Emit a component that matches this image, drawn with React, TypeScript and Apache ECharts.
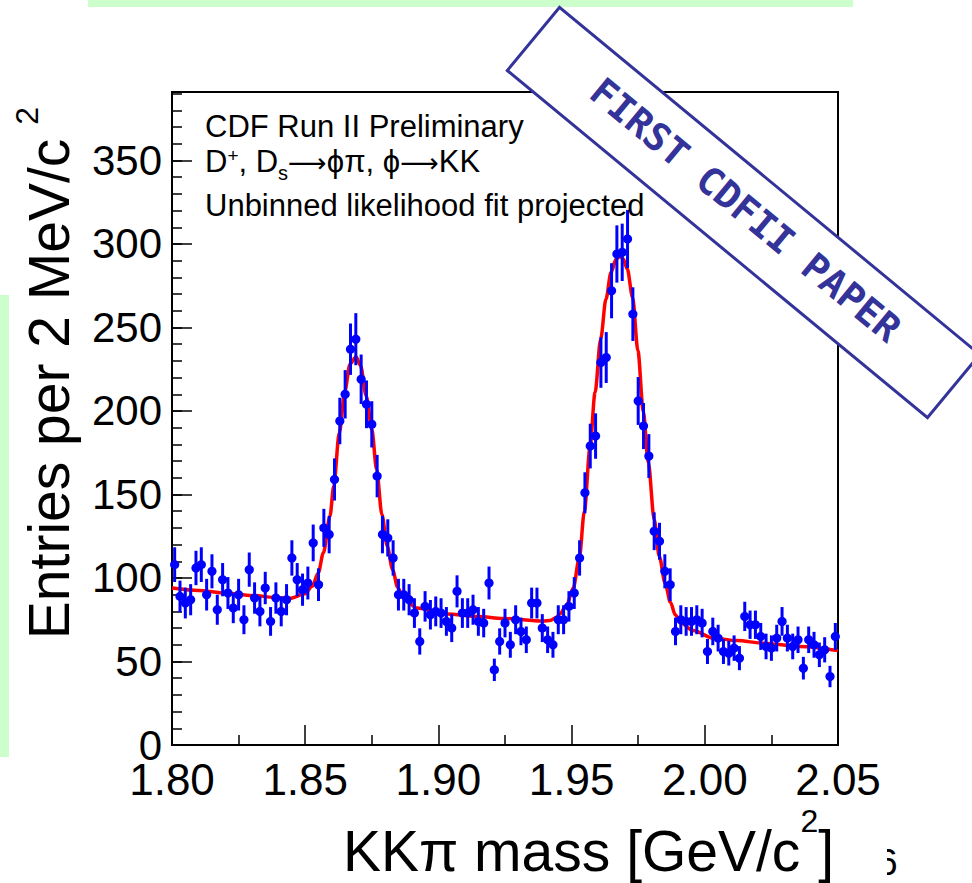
import React, { useEffect, useRef } from 'react';
import * as echarts from 'echarts';

// Histogram: 2 MeV bins from 1.80 to 2.05 GeV/c^2
const binStart = 1.8;
const binWidth = 0.002;
const counts = [
  108, 89, 85, 87, 106, 108, 90, 104, 81, 99,
  91, 82, 90, 75, 105, 88, 80, 94, 74, 88,
  80, 87, 112, 99, 93, 97, 121, 96, 130, 126,
  159, 194, 210, 237, 243, 219, 204, 192, 161, 126,
  124, 112, 90, 90, 87, 79, 62, 83, 78, 80,
  79, 74, 70, 92, 79, 79, 81, 74, 73, 97,
  45, 62, 73, 60, 75, 68, 63, 85, 85, 70,
  63, 60, 75, 75, 83, 91, 112, 151, 179, 185,
  229, 232, 272, 294, 295, 303, 258, 206, 191, 173,
  128, 122, 104, 96, 68, 75, 74, 74, 75, 73,
  56, 68, 64, 56, 55, 58, 52, 77, 72, 72,
  65, 59, 58, 64, 74, 64, 59, 63, 46, 63,
  60, 54, 57, 41, 65,
];

// Fit curve
const fitMass = [
  1.8, 1.81, 1.82, 1.83, 1.84, 1.8443, 1.8499, 1.8526, 1.8549, 1.8568,
  1.8593, 1.8607, 1.8628, 1.8649, 1.8668, 1.8691, 1.8708, 1.8729, 1.875, 1.8768,
  1.8788, 1.8808, 1.8828, 1.8847, 1.8868, 1.8919, 1.9031, 1.915, 1.9242, 1.9393,
  1.9419, 1.9444, 1.9456, 1.9482, 1.9506, 1.9529, 1.9548, 1.9569, 1.9588, 1.9609,
  1.9629, 1.9648, 1.9667, 1.9682, 1.9694, 1.9709, 1.9729, 1.9749, 1.9769, 1.9788,
  1.981, 1.9829, 1.9851, 1.9871, 1.9889, 1.991, 1.9956, 2.0032, 2.012, 2.022,
  2.0357, 2.05,
];
const fitValue = [
  94, 92.5, 91, 89.5, 88.2, 87.8, 90.5, 95, 103, 115,
  137, 155, 187, 212, 228, 232.5, 227, 209, 189, 165,
  138, 119, 105, 94.5, 88, 82, 78.5, 77, 75.8, 74.2,
  74.6, 76.5, 78.5, 84, 94, 112, 140, 178, 211, 243,
  267, 283, 291, 292.5, 291, 285, 268, 236, 200, 169,
  135, 113, 97, 85.5, 78, 73, 68.5, 64, 62.5, 61,
  59, 56.5,
];

const xTicks = { min: 1.8, max: 2.05, interval: 0.05 };
const yTicks = { min: 0, max: 391, major: 50, minor: 10 };

const FONT = '"Liberation Sans", Arial, Helvetica, sans-serif';
const ARROWFONT = '"DejaVu Sans", sans-serif';

export default function App() {
  const ref = useRef<HTMLDivElement>(null);

  useEffect(() => {
    if (!ref.current) return;
    const chart = echarts.init(ref.current, null, { renderer: 'svg' });

    const points = counts.map((c, i) => [binStart + binWidth * (i + 0.5), c]);
    const fit = fitMass.map((m, i) => [m, fitValue[i]]);

    const xTitleRich = {
      m: { fontSize: 57, fontFamily: FONT, lineHeight: 74, verticalAlign: 'bottom', fill: '#000' },
      sup: { fontSize: 32, fontFamily: FONT, lineHeight: 20, verticalAlign: 'top', fill: '#000' },
    };
    const yTitleRich = {
      m: { fontSize: 57, fontFamily: FONT, lineHeight: 66, verticalAlign: 'bottom', fill: '#000' },
      sup: { fontSize: 32, fontFamily: FONT, lineHeight: 20, verticalAlign: 'top', padding: [0, 0, 0, 14], fill: '#000' },
    };

    const option: any = {
      animation: false,
      backgroundColor: '#ffffff',
      grid: {
        left: 172,
        top: 92,
        width: 666,
        height: 653,
        show: true,
        borderColor: '#000',
        borderWidth: 2,
        backgroundColor: 'transparent',
        containLabel: false,
      },
      xAxis: {
        type: 'value',
        min: xTicks.min,
        max: xTicks.max,
        interval: xTicks.interval,
        axisLine: { show: true, lineStyle: { color: '#000', width: 2 } },
        axisTick: { show: true, inside: true, length: 20, lineStyle: { color: '#000', width: 1.5 } },
        minorTick: { show: true, splitNumber: 2, length: 10, lineStyle: { color: '#000', width: 1.5 } },
        splitLine: { show: false },
        minorSplitLine: { show: false },
        axisLabel: {
          color: '#000',
          fontSize: 44,
          fontFamily: FONT,
          margin: 12,
          formatter: (v: number) => v.toFixed(2),
        },
      },
      yAxis: [
        {
          type: 'value',
          position: 'left',
          min: yTicks.min,
          max: yTicks.max,
          interval: yTicks.major,
          axisLine: { show: true, lineStyle: { color: '#000', width: 2 } },
          axisTick: { show: true, inside: true, length: 20, lineStyle: { color: '#000', width: 1.5 } },
          splitLine: { show: false },
          axisLabel: {
            color: '#000',
            fontSize: 42,
            fontFamily: FONT,
            margin: 10,
            showMaxLabel: false,
          },
        },
        {
          type: 'value',
          position: 'left',
          offset: 0,
          min: yTicks.min,
          max: yTicks.max,
          interval: yTicks.minor,
          axisLine: { show: false },
          axisTick: { show: true, inside: true, length: 10, lineStyle: { color: '#000', width: 1.5 } },
          splitLine: { show: false },
          axisLabel: { show: false },
        },
      ],
      series: [
        {
          type: 'line',
          data: fit,
          yAxisIndex: 0,
          showSymbol: false,
          symbol: 'none',
          smooth: 0.3,
          smoothMonotone: 'x',
          lineStyle: { color: '#ff0000', width: 3.5 },
          z: 2,
        },
        {
          type: 'custom',
          yAxisIndex: 0,
          data: points,
          z: 3,
          renderItem: (params: any, api: any) => {
            const x = api.value(0);
            const y = api.value(1);
            const e = Math.sqrt(y);
            const p = api.coord([x, y]);
            const t = api.coord([x, y + e]);
            const b = api.coord([x, y - e]);
            return {
              type: 'group',
              children: [
                {
                  type: 'line',
                  shape: { x1: p[0], y1: t[1], x2: p[0], y2: b[1] },
                  style: { stroke: '#0000ff', lineWidth: 3 },
                },
                {
                  type: 'circle',
                  shape: { cx: p[0], cy: p[1], r: 4.6 },
                  style: { fill: '#0000ff' },
                },
              ],
            };
          },
        },
      ],
      graphic: [
        { type: 'rect', shape: { x: 88, y: 0, width: 765, height: 7 }, style: { fill: '#ccffcc' }, z: 1 },
        { type: 'rect', shape: { x: 0, y: 295, width: 9, height: 462 }, style: { fill: '#ccffcc' }, z: 1 },
        {
          type: 'text',
          x: 205,
          y: 126,
          style: { text: 'CDF Run II Preliminary', font: `31px ${FONT}`, fill: '#000', verticalAlign: 'middle' },
          z: 10,
        },
        {
          type: 'text',
          x: 205,
          y: 146,
          style: {
            text: '{m|D}{sup|+}{m|, D}{sub|s}{ar|⟶}{m|ϕπ, ϕ}{ar|⟶}{m|KK}',
            verticalAlign: 'top',
            rich: {
              m: { fontSize: 31, fontFamily: FONT, lineHeight: 34, verticalAlign: 'top', fill: '#000' },
              ar: { fontSize: 27, fontFamily: ARROWFONT, lineHeight: 34, verticalAlign: 'top', padding: [3, 0, 0, 0], fill: '#000' },
              sup: { fontSize: 19, fontFamily: FONT, lineHeight: 19, verticalAlign: 'top', fill: '#000' },
              sub: { fontSize: 20, fontFamily: FONT, lineHeight: 37, verticalAlign: 'bottom', fill: '#000' },
            },
          },
          z: 10,
        },
        {
          type: 'text',
          x: 205,
          y: 205,
          style: { text: 'Unbinned likelihood fit projected', font: `31px ${FONT}`, fill: '#000', verticalAlign: 'middle' },
          z: 10,
        },
        // x axis title
        {
          type: 'text',
          x: 834,
          y: 879,
          style: {
            text: '{m|KKπ mass [GeV/c}{sup|2}{m|]}',
            align: 'right',
            verticalAlign: 'bottom',
            rich: xTitleRich,
          },
          z: 10,
        },
        // y axis title
        {
          type: 'text',
          x: 44,
          y: 373,
          rotation: Math.PI / 2,
          style: {
            text: '{m|Entries per 2 MeV/c}{sup|2}',
            align: 'center',
            verticalAlign: 'middle',
            rich: yTitleRich,
          },
          z: 10,
        },
        // slide number, partly hidden
        {
          type: 'text',
          x: 877,
          y: 862,
          style: { text: '6', font: `37px ${FONT}`, fill: '#000', verticalAlign: 'middle' },
          z: 10,
        },
        { type: 'rect', shape: { x: 860, y: 838, width: 27, height: 45 }, style: { fill: '#ffffff' }, z: 11 },
        // stamp
        {
          type: 'group',
          x: 743.5,
          y: 212.5,
          rotation: -0.691,
          z: 100,
          children: [
            {
              type: 'rect',
              shape: { x: -272.5, y: -41, width: 545, height: 82 },
              style: { fill: '#ffffff', stroke: '#333399', lineWidth: 3 },
              z: 100,
            },
            {
              type: 'text',
              x: 0,
              y: -3,
              style: {
                text: 'FIRST CDFII PAPER',
                font: `bold 38px "DejaVu Sans Mono", monospace`,
                fill: '#333399',
                align: 'center',
                verticalAlign: 'middle',
              },
              z: 101,
            },
          ],
        },
      ],
    };

    chart.setOption(option);
    return () => chart.dispose();
  }, []);

  return (
    <div
      ref={ref}
      style={{ position: 'fixed', left: 0, top: 0, width: 972, height: 883, background: '#fff' }}
    />
  );
}
